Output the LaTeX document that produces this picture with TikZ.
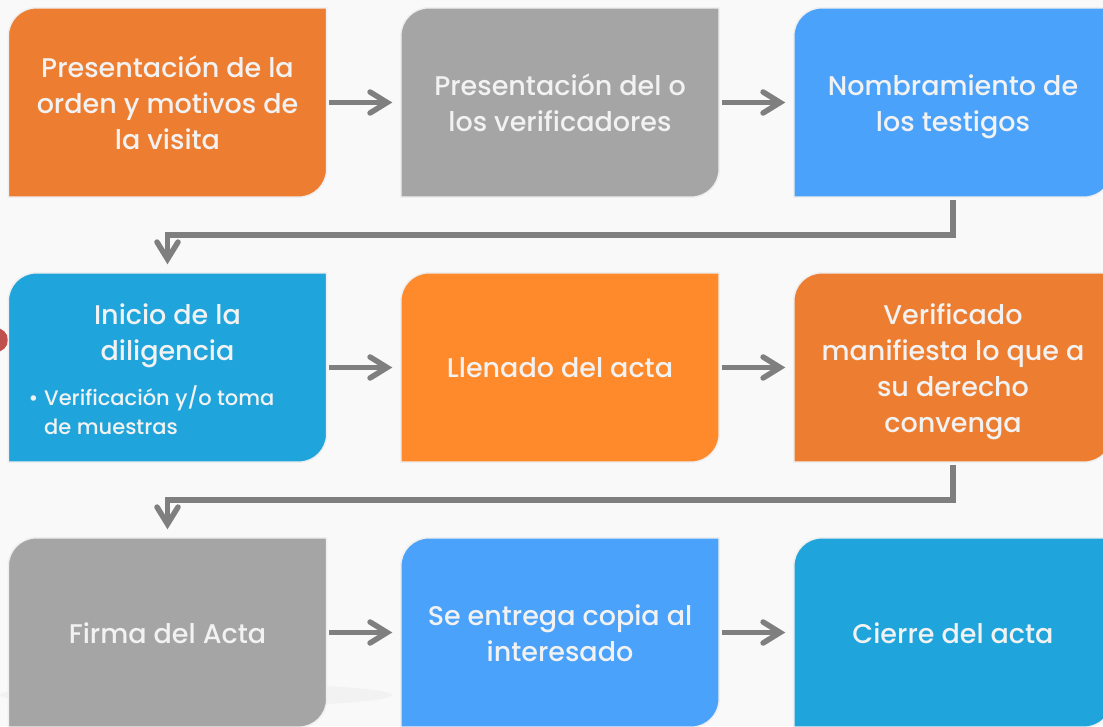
\documentclass[tikz,border=0pt]{standalone}
\usepackage{fontspec}
\setmainfont{Poppins Medium}
\usetikzlibrary{arrows.meta,backgrounds}

\definecolor{hintergrund}{HTML}{F9F9F9}
\definecolor{orangeA}{HTML}{ED7D31}
\definecolor{orangeB}{HTML}{FF8A2C}
\definecolor{grauA}{HTML}{A5A5A5}
\definecolor{blauA}{HTML}{4AA2FA}
\definecolor{blauB}{HTML}{1FA5DB}
\definecolor{pfeilgrau}{HTML}{7F7F7F}
\definecolor{schrift}{HTML}{F2F2F2}
\definecolor{rahmen}{HTML}{EFEFEF}
\definecolor{rotrest}{HTML}{C0504D}

\begin{document}
\begin{tikzpicture}[x=1pt, y=1pt,
  kasten/.style={minimum width=318, minimum height=189, inner sep=0, align=center, text=schrift, font=\fontsize{27}{36}\selectfont,
    execute at begin node={\rule{0pt}{31pt}}, execute at end node={\rule[-10pt]{0pt}{10pt}}},
  oben/.style={execute at begin node={\rule{0pt}{#1pt}}},
  pfeil/.style={draw=pfeilgrau, line width=5.5, shorten <=2.5, shorten >=8.5, -{Straight Barb[length=17, width=21, line cap=round]}}]

\useasboundingbox (0,0) rectangle (1103,726);

%Zeile 1
\node[kasten, oben=104] (praes) at (167.5,623.5) {Presentación de la\\orden y motivos de\\la visita};
\node[kasten, oben=68] (verif) at (560,623.5) {Presentación del o\\los verificadores};
\node[kasten, oben=68] (testigos) at (953,623.5) {Nombramiento de\\los testigos};

%Zeile 2
\node[kasten, oben=113] (inicio) at (167.5,358.5) {Inicio de la\\diligencia\\[9pt]\makebox[278pt][l]{\fontsize{21}{29}\selectfont\begin{tabular}[t]{@{}l@{\hspace{6pt}}l@{}}•&Verificación y/o toma\\&de muestras\end{tabular}}};
\node[kasten] (llenado) at (560,358.5) {Llenado del acta};
\node[kasten, oben=140] (manif) at (953,358.5) {Verificado\\manifiesta lo que a\\su derecho\\convenga};

%Zeile 3
\node[kasten] (firma) at (167.5,93.5) {Firma del Acta};
\node[kasten, oben=68] (copia) at (560,93.5) {Se entrega copia al\\interesado};
\node[kasten] (cierre) at (953,93.5) {Cierre del acta};

%Hintergrund und Kaesten
\begin{scope}[on background layer]
\fill[hintergrund] (0,0) rectangle (1103,726);
\fill[black!5] (196,31) ellipse [x radius=196, y radius=12];
\fill[rotrest] (-4,386) circle [radius=12];
\foreach \n/\f in {praes/orangeA, verif/grauA, testigos/blauA, inicio/blauB, llenado/orangeB, manif/orangeA, firma/grauA, copia/blauA, cierre/blauB}
  \filldraw[fill=\f, draw=rahmen, line width=1.5] ([yshift=-28]\n.north west) arc[start angle=180, end angle=90, radius=28] -- (\n.north east) -- ([yshift=28]\n.south east) arc[start angle=0, end angle=-90, radius=28] -- (\n.south west) -- cycle;
\end{scope}

%Pfeile
\draw[pfeil] (praes) -- (verif);
\draw[pfeil] (verif) -- (testigos);
\draw[pfeil] (testigos.south) -- ++(0,-38) -| (inicio.north);
\draw[pfeil] (inicio) -- (llenado);
\draw[pfeil] (llenado) -- (manif);
\draw[pfeil] (manif.south) -- ++(0,-38) -| (firma.north);
\draw[pfeil] (firma) -- (copia);
\draw[pfeil] (copia) -- (cierre);

\end{tikzpicture}
\end{document}
